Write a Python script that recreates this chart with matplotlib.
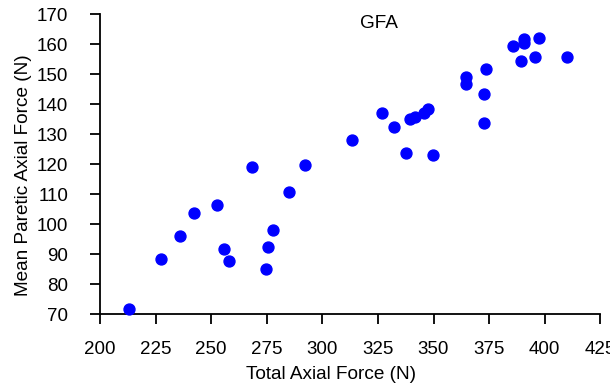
import matplotlib
matplotlib.use("Agg")
import matplotlib.pyplot as plt

plt.rcParams['font.family'] = ['Liberation Sans', 'DejaVu Sans']

# Datos
fuerza_total = [213, 227.6, 235.9, 242.2, 252.5, 255.7, 257.8, 268.3, 274.6, 275.6,
                277.7, 284.9, 292.3, 313.3, 326.8, 332.4, 337.6, 339.6, 341.9, 345.5,
                347.6, 349.6, 364.5, 364.5, 372.7, 372.7, 373.8, 385.6, 389.5, 390.6,
                390.6, 395.6, 397.6, 410.1]
fuerza_paretica = [71.7, 88.3, 96.0, 103.6, 106.4, 91.8, 87.7, 118.9, 84.9, 92.4,
                   98.1, 110.6, 119.6, 128.0, 137.0, 132.2, 123.8, 134.9, 135.7, 136.9,
                   138.4, 123.1, 148.9, 146.7, 143.2, 133.6, 151.7, 159.2, 154.3, 161.6,
                   160.4, 155.8, 162.0, 155.8]
xticks = list(range(200, 426, 25))
yticks = list(range(70, 171, 10))

fig = plt.figure(figsize=(6.1, 3.86), dpi=100)
ax = fig.add_axes([0.164, 0.1865, 0.82, 0.777])

ax.scatter(fuerza_total, fuerza_paretica, s=62, color='#0000ff', zorder=3,
           clip_on=False)

ax.set_xlim(200, 425)
ax.set_ylim(70, 170)
ax.set_xticks(xticks)
ax.set_yticks(yticks)
ax.spines['top'].set_visible(False)
ax.spines['right'].set_visible(False)
for s in ['left', 'bottom']:
    ax.spines[s].set_linewidth(1.3)
ax.tick_params(direction='out', length=7, width=1.3, labelsize=13.5)
ax.tick_params(axis='x', pad=12.5)
ax.tick_params(axis='y', pad=16)

ax.set_xlabel('Total Axial Force (N)', fontsize=13.7)
ax.set_ylabel('Mean Paretic Axial Force (N)', fontsize=13.7)
ax.xaxis.set_label_coords(0.462, -0.203)
ax.yaxis.set_label_coords(-0.154, 0.463)
ax.xaxis.label.set_va('center')
ax.yaxis.label.set_va('center')
ax.text(325.4, 166.7, 'GFA', fontsize=13.7, ha='center', va='center')

fig.savefig('out.png', dpi=100)
